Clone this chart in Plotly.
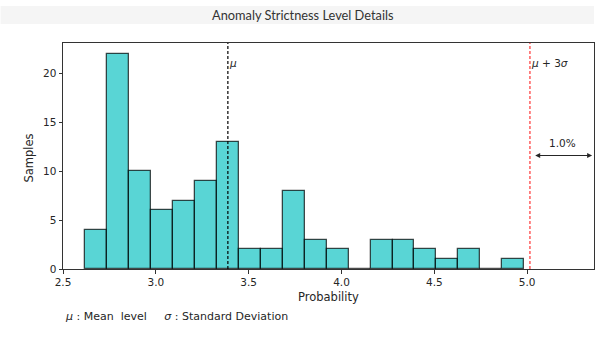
import plotly.graph_objects as go

# Histogram of strictness probabilities (20 equal-width bins)
bin_start = 2.620
bin_width = 0.1182
counts = [4, 22, 10, 6, 7, 9, 13, 2, 2, 8, 3, 2, 0, 3, 3, 2, 1, 2, 0, 1]

mean_level = 3.388
upper_level = 5.015          # mu + 3 sigma
tail_share = "1.0%"

x_range = [2.5, 5.36]
y_range = [0, 23.1]
x_ticks = [2.5, 3.0, 3.5, 4.0, 4.5, 5.0]
y_ticks = [0, 5, 10, 15, 20]

centers = [bin_start + bin_width * (i + 0.5) for i in range(len(counts))]

W, H = 600, 346
L, R, T, B = 62.5, 6, 43, 77
plot_h = H - T - B
plot_w = W - L - R


def py(pix):
    return (H - B - pix) / plot_h


def px(pix):
    return (pix - L) / plot_w


txt = "#262626"
tick_font = dict(family="DejaVu Sans", size=10.5, color=txt)

fig = go.Figure()
fig.add_trace(go.Bar(
    x=centers, y=counts, width=[bin_width] * len(counts),
    marker=dict(color="rgba(0,191,191,0.65)",
                line=dict(color="rgba(0,0,0,0.7)", width=1.3)),
    hoverinfo="x+y", showlegend=False,
))

# mean and upper threshold markers
fig.add_shape(type="line", xref="x", yref="paper", x0=mean_level, x1=mean_level,
              y0=0, y1=1, line=dict(color="black", width=1.2, dash="3px,2px"))
fig.add_shape(type="line", xref="x", yref="paper", x0=upper_level, x1=upper_level,
              y0=0, y1=1, line=dict(color="rgba(255,0,0,0.8)", width=1.2, dash="3px,2px"))

# title strip
fig.add_shape(type="rect", xref="paper", yref="paper", x0=px(0), x1=px(594),
              y0=py(24), y1=py(6), fillcolor="#f5f5f5", line=dict(width=0), layer="below")

ann = [
    dict(text="Anomaly Strictness Level Details", x=px(303), y=py(15),
         font=dict(family="Lato", size=12.8, color="#333")),
    dict(text="<i>μ</i>", x=mean_level, xref="x", y=py(63), xanchor="left", xshift=-1,
         font=dict(family="DejaVu Sans", size=10.5, color=txt)),
    dict(text="<i>μ</i> + 3<i>σ</i>", x=upper_level, xref="x", y=py(63), xanchor="left", xshift=-1,
         font=dict(family="DejaVu Sans", size=10.5, color=txt)),
    dict(text=tail_share, x=px(562), y=py(143),
         font=dict(family="DejaVu Sans", size=10.5, color=txt)),
    dict(text="Probability", x=px(328), y=py(297),
         font=dict(family="DejaVu Sans", size=11.5, color=txt)),
    dict(text="Samples", x=px(28), y=py(158), textangle=-90,
         font=dict(family="DejaVu Sans", size=11.5, color=txt)),
    dict(text="<i>μ</i> : Mean\u00a0\u00a0level\u00a0\u00a0\u00a0\u00a0\u00a0<i>σ</i> : Standard Deviation",
         x=px(63), y=py(316), xanchor="left",
         font=dict(family="DejaVu Sans", size=11, color=txt)),
]
for a in ann:
    a.setdefault("xref", "paper")
    a.setdefault("yref", "paper")
    a.setdefault("xanchor", "center")
    a.setdefault("yanchor", "middle")
    a.setdefault("showarrow", False)
    fig.add_annotation(**a)

# two-headed arrow spanning the tail region
fig.add_annotation(x=5.35, y=11.6, ax=upper_level + 0.02, ay=11.6,
                   xref="x", yref="y", axref="x", ayref="y",
                   showarrow=True, arrowhead=2, startarrowhead=2, arrowside="end+start",
                   arrowsize=1, arrowwidth=1, arrowcolor=txt, text="")

axis_common = dict(showline=True, linecolor="#333", linewidth=1, mirror=True,
                   ticks="outside", ticklen=3.5, tickcolor="#333", tickwidth=1,
                   showgrid=False, zeroline=False, tickfont=tick_font)

fig.update_layout(
    width=W, height=H, margin=dict(l=L, r=R, t=T, b=B),
    paper_bgcolor="white", plot_bgcolor="white", bargap=0,
    xaxis=dict(range=x_range, tickvals=x_ticks, ticktext=[f"{v:.1f}" for v in x_ticks], **axis_common),
    yaxis=dict(range=y_range, tickvals=y_ticks, **axis_common),
)

fig.write_html("out.html")
